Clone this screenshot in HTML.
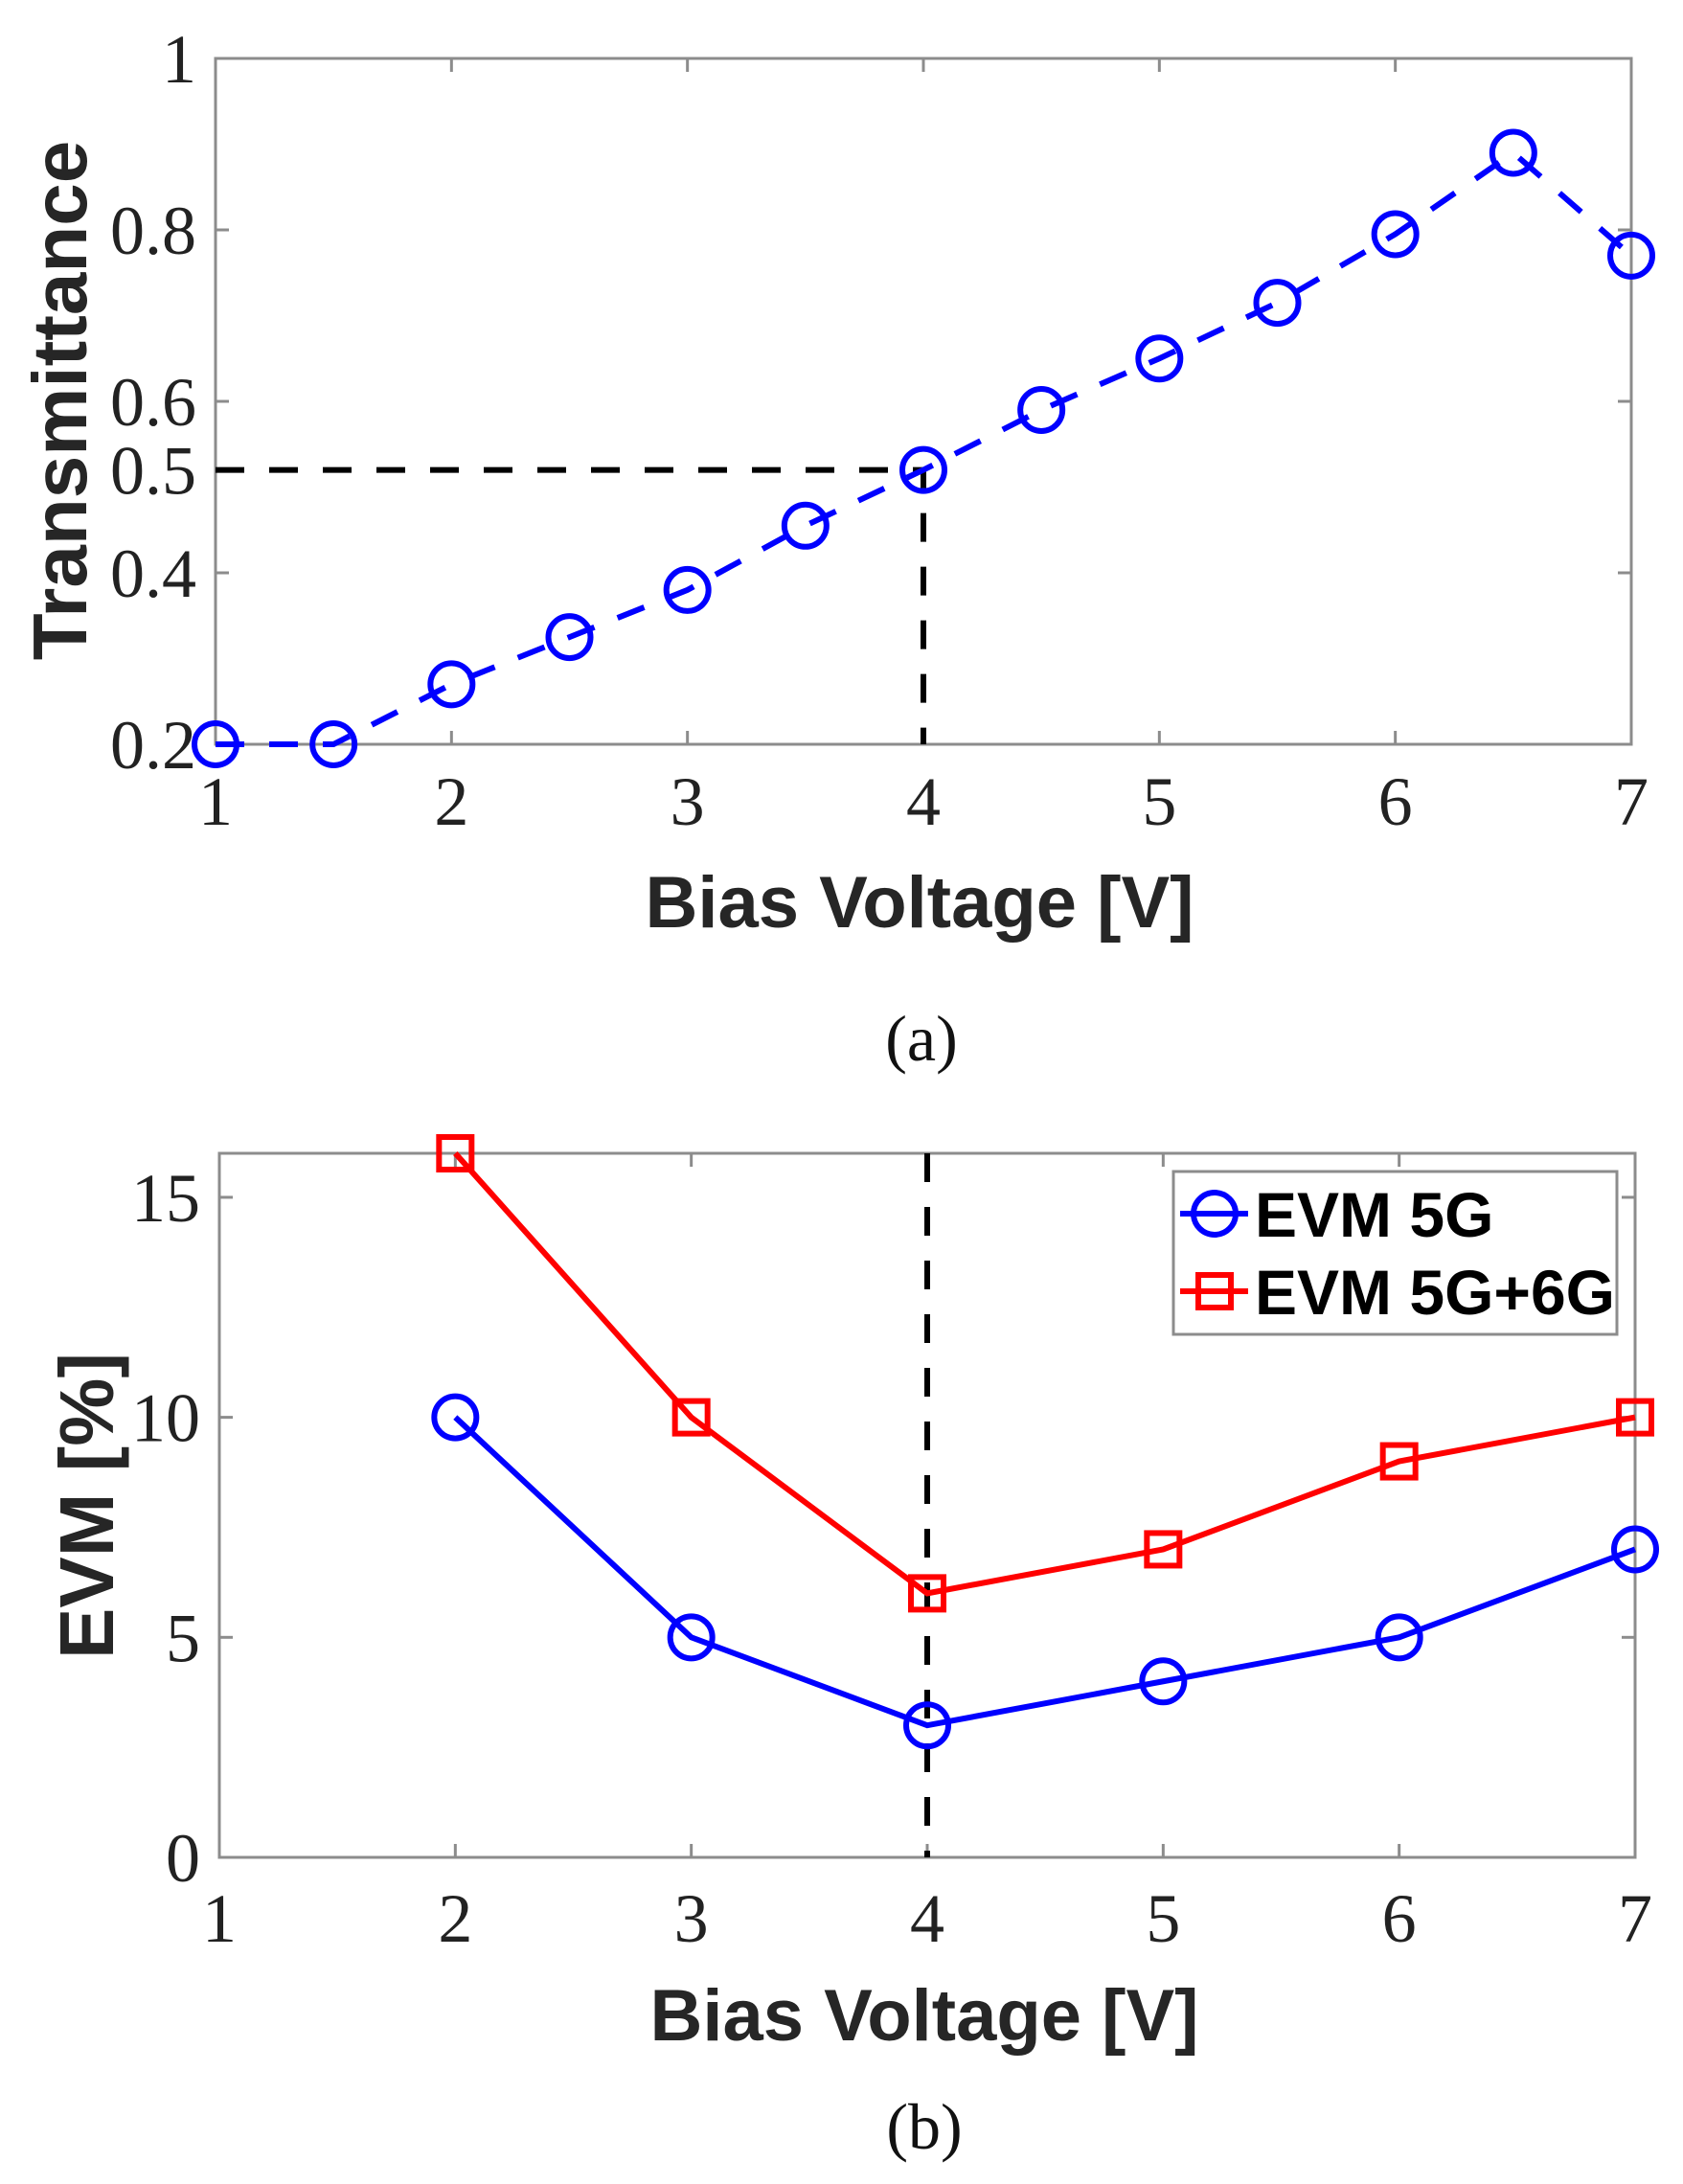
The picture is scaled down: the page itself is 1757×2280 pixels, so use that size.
<!DOCTYPE html>
<html><head><meta charset="utf-8"><style>
html,body{margin:0;padding:0;background:#fff;}
svg{display:block;}
.tk{font-family:"Liberation Serif",serif;font-size:72px;fill:#222;}
.lab{font-family:"Liberation Sans",sans-serif;font-weight:bold;font-size:76px;fill:#262626;}
.laby{font-family:"Liberation Sans",sans-serif;font-weight:bold;font-size:80px;fill:#262626;}
.cap{font-family:"Liberation Serif",serif;font-size:68px;fill:#111;}
.leg{font-family:"Liberation Sans",sans-serif;font-weight:bold;font-size:66px;fill:#000;}
</style></head><body>
<svg id="fig" width="1757" height="2280" viewBox="0 0 1757 2280" xmlns="http://www.w3.org/2000/svg"></svg>
<script>
// Panel (a) data
const aVolt = [1,1.5,2,2.5,3,3.5,4,4.5,5,5.5,6,6.5,7];
const aTrans = [0.2,0.2,0.27,0.325,0.38,0.455,0.52,0.59,0.65,0.715,0.795,0.89,0.77];
const aYTicks = [0.2,0.4,0.6,0.8,1];
const aYTickLabels = ["0.2","0.4","0.6","0.8","1"];
const aXTicks = [1,2,3,4,5,6,7];
const aRefX = 4;
const aRefY = 0.52;
// Panel (b) data
const bVolt = [2,3,4,5,6,7];
const bEvm5G = [10,5,3,4,5,7];
const bEvm56G = [16,10,6,7,9,10];
const bYTicks = [0,5,10,15];
const bXTicks = [1,2,3,4,5,6,7];
const bRefX = 4;
const seriesNames = ["EVM 5G","EVM 5G+6G"];

const NS="http://www.w3.org/2000/svg";
const svg=document.getElementById('fig');
function mk(tag,attrs,parent){const e=document.createElementNS(NS,tag);for(const k in attrs)e.setAttribute(k,attrs[k]);(parent||svg).appendChild(e);return e;}

function axes(L,R,T,B,x0,x1,y0,y1){
  return {x:v=>L+(v-x0)/(x1-x0)*(R-L), y:v=>B-(v-y0)/(y1-y0)*(B-T), L,R,T,B};
}

// ---- Panel (a)
const A=axes(225,1703,61,777,1,7,0.2,1);
const ga=mk('g',{});


let box=mk('rect',{x:A.L,y:A.T,width:A.R-A.L,height:A.B-A.T,fill:'none',stroke:'#8c8c8c','stroke-width':3},ga);


aXTicks.forEach(v=>{
  mk('line',{x1:A.x(v),x2:A.x(v),y1:A.B,y2:A.B-14,stroke:'#8c8c8c','stroke-width':3},ga);
  mk('line',{x1:A.x(v),x2:A.x(v),y1:A.T,y2:A.T+14,stroke:'#8c8c8c','stroke-width':3},ga);
  const t=mk('text',{x:A.x(v),y:A.B+84,'text-anchor':'middle',class:'tk'},ga);t.textContent=v;
  
  
});
aYTicks.forEach((v,i)=>{
  mk('line',{x1:A.L,x2:A.L+14,y1:A.y(v),y2:A.y(v),stroke:'#8c8c8c','stroke-width':3},ga);
  mk('line',{x1:A.R,x2:A.R-14,y1:A.y(v),y2:A.y(v),stroke:'#8c8c8c','stroke-width':3},ga);
  const t=mk('text',{x:205,y:A.y(v)+25,'text-anchor':'end',class:'tk'},ga);t.textContent=aYTickLabels[i];
  
  
});
let t5=mk('text',{x:205,y:A.y(aRefY)+25,'text-anchor':'end',class:'tk'},ga);t5.textContent="0.5";


let rh=mk('polyline',{points:`${A.L},${A.y(aRefY)} ${A.x(aRefX)},${A.y(aRefY)} ${A.x(aRefX)},${A.B}`,fill:'none',stroke:'#000','stroke-width':6,'stroke-dasharray':'30,26'},ga);


let la=mk('polyline',{points:aVolt.map((v,i)=>A.x(v)+','+A.y(aTrans[i])).join(' '),fill:'none',stroke:'#0000ff','stroke-width':6,'stroke-dasharray':'30,26'},ga);


aVolt.forEach((v,i)=>{
  const c=mk('circle',{cx:A.x(v),cy:A.y(aTrans[i]),r:22,fill:'none',stroke:'#0000ff','stroke-width':6},ga);
  
  
});
let xa=mk('text',{x:960,y:968,'text-anchor':'middle',class:'lab'},ga);xa.textContent="Bias Voltage [V]";


let ya=mk('text',{x:0,y:0,'text-anchor':'middle',class:'laby',transform:'translate(90,418) rotate(-90)'},ga);ya.textContent="Transmittance";


let ca=mk('text',{x:962,y:1107,'text-anchor':'middle',class:'cap'},ga);ca.textContent="(a)";



// ---- Panel (b)
const B=axes(229,1707,1204,1939,1,7,0,16);
const gb=mk('g',{});


let boxb=mk('rect',{x:B.L,y:B.T,width:B.R-B.L,height:B.B-B.T,fill:'none',stroke:'#8c8c8c','stroke-width':3},gb);


bXTicks.forEach(v=>{
  mk('line',{x1:B.x(v),x2:B.x(v),y1:B.B,y2:B.B-14,stroke:'#8c8c8c','stroke-width':3},gb);
  mk('line',{x1:B.x(v),x2:B.x(v),y1:B.T,y2:B.T+14,stroke:'#8c8c8c','stroke-width':3},gb);
  const t=mk('text',{x:B.x(v),y:B.B+88,'text-anchor':'middle',class:'tk'},gb);t.textContent=v;
  
  
});
bYTicks.forEach(v=>{
  mk('line',{x1:B.L,x2:B.L+14,y1:B.y(v),y2:B.y(v),stroke:'#8c8c8c','stroke-width':3},gb);
  mk('line',{x1:B.R,x2:B.R-14,y1:B.y(v),y2:B.y(v),stroke:'#8c8c8c','stroke-width':3},gb);
  const t=mk('text',{x:209,y:B.y(v)+25,'text-anchor':'end',class:'tk'},gb);t.textContent=v;
  
  
});
let rv=mk('line',{x1:B.x(bRefX),x2:B.x(bRefX),y1:B.T,y2:B.B,stroke:'#000','stroke-width':6,'stroke-dasharray':'30,26'},gb);


let l1=mk('polyline',{points:bVolt.map((v,i)=>B.x(v)+','+B.y(bEvm5G[i])).join(' '),fill:'none',stroke:'#0000ff','stroke-width':6},gb);


let l2=mk('polyline',{points:bVolt.map((v,i)=>B.x(v)+','+B.y(bEvm56G[i])).join(' '),fill:'none',stroke:'#ff0000','stroke-width':6},gb);


bVolt.forEach((v,i)=>{
  const c=mk('circle',{cx:B.x(v),cy:B.y(bEvm5G[i]),r:22,fill:'none',stroke:'#0000ff','stroke-width':6},gb);
  
  
  const s=mk('rect',{x:B.x(v)-17,y:B.y(bEvm56G[i])-17,width:34,height:34,fill:'none',stroke:'#ff0000','stroke-width':6},gb);
  
  
});
// legend
const lg=mk('g',{},gb);


mk('rect',{x:1225,y:1223,width:463,height:170,fill:'#fff',stroke:'#8c8c8c','stroke-width':3},lg);
const ly=[1267,1348];
const lc=['#0000ff','#ff0000'];
ly.forEach((y,i)=>{
  const e=mk('g',{},lg);
  
  
  mk('line',{x1:1232,x2:1303,y1:y,y2:y,stroke:lc[i],'stroke-width':6},e);
  if(i===0) mk('circle',{cx:1268,cy:y,r:22,fill:'none',stroke:lc[i],'stroke-width':6},e);
  else mk('rect',{x:1251,y:y-17,width:34,height:34,fill:'none',stroke:lc[i],'stroke-width':6},e);
  const t=mk('text',{x:1310,y:y+24,class:'leg'},e);t.textContent=seriesNames[i];
});
let xb=mk('text',{x:965,y:2130,'text-anchor':'middle',class:'lab'},gb);xb.textContent="Bias Voltage [V]";


let yb=mk('text',{x:0,y:0,'text-anchor':'middle',class:'laby',transform:'translate(118,1572) rotate(-90)'},gb);yb.textContent="EVM [%]";


let cb=mk('text',{x:965,y:2243,'text-anchor':'middle',class:'cap'},gb);cb.textContent="(b)";


</script>
</body></html>
